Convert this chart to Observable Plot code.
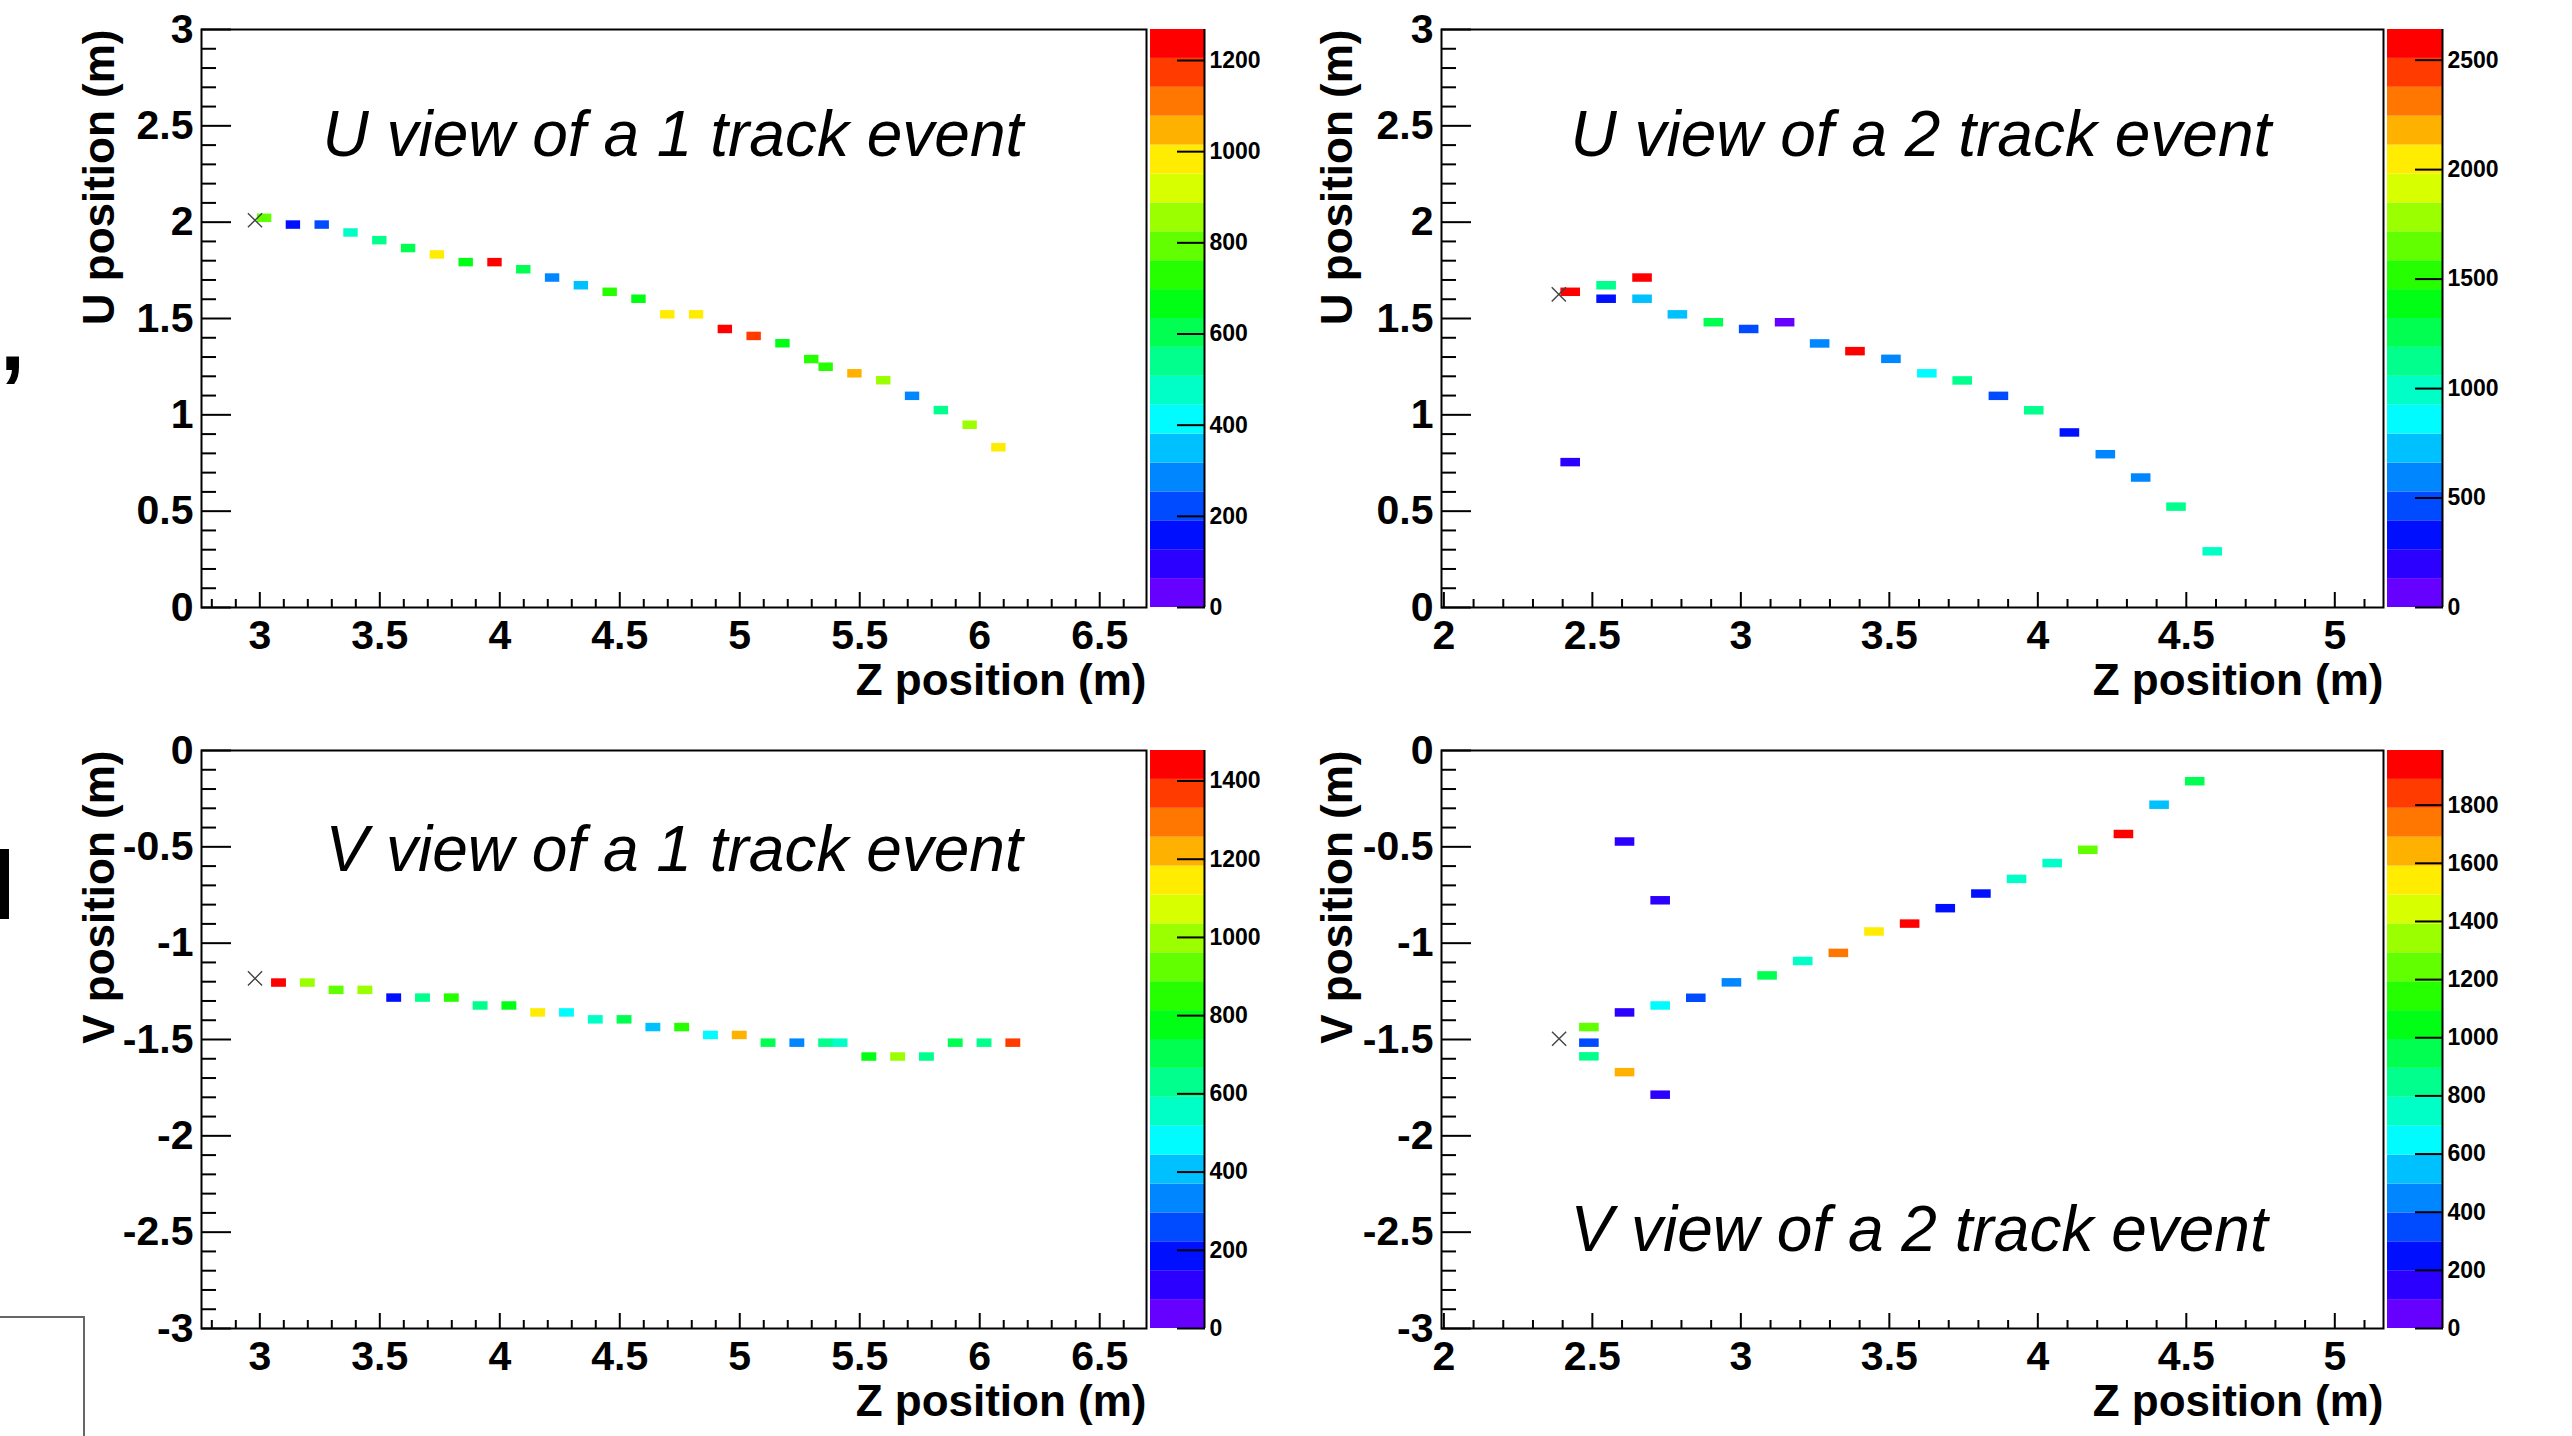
<!DOCTYPE html>
<html>
<head>
<meta charset="utf-8">
<script src="https://cdn.jsdelivr.net/npm/d3@7"></script>
<script src="https://cdn.jsdelivr.net/npm/@observablehq/plot@0.6"></script>
<style>
html, body { margin: 0; padding: 0; background: #fff; }
#root { position: relative; width: 2572px; height: 1436px; overflow: hidden; background: #fff; font-family: "Liberation Sans", Arial, Helvetica, sans-serif; }
.slot { position: absolute; }
.slot svg { display: block; }
.deco { position: absolute; }
</style>
</head>
<body>
<div id="root"></div>
<script>
// ---------------- DATA ----------------
const titles = ["U view of a 1 track event", "U view of a 2 track event", "V view of a 1 track event", "V view of a 2 track event"];
const yLabels = ["U position (m)", "U position (m)", "V position (m)", "V position (m)"];
const xLabel = "Z position (m)";

// Panel 1: U view, 1 track event (Z, U, charge)
const z1 = [3.02, 3.14, 3.26, 3.38, 3.50, 3.62, 3.74, 3.86, 3.98, 4.10, 4.22, 4.34, 4.46, 4.58, 4.70, 4.82, 4.94, 5.06, 5.18, 5.30, 5.36, 5.48, 5.60, 5.72, 5.84, 5.96, 6.08];
const t1 = [2.02, 1.985, 1.985, 1.944, 1.904, 1.863, 1.83, 1.79, 1.79, 1.753, 1.71, 1.67, 1.636, 1.60, 1.519, 1.519, 1.443, 1.407, 1.369, 1.287, 1.247, 1.213, 1.177, 1.096, 1.022, 0.946, 0.829];
const q1 = [790, 160, 220, 475, 540, 600, 980, 665, 1235, 600, 285, 350, 730, 665, 980, 980, 1235, 1175, 665, 730, 730, 1045, 855, 285, 540, 855, 980];

// Panel 2: U view, 2 track event
const z2 = [2.427, 2.548, 2.669, 2.548, 2.669, 2.788, 2.909, 3.028, 3.149, 3.267, 3.386, 3.507, 3.628, 3.747, 3.869, 3.988, 4.108, 4.229, 4.348, 4.467, 4.589, 2.427];
const t2 = [1.636, 1.670, 1.710, 1.600, 1.600, 1.519, 1.478, 1.443, 1.478, 1.368, 1.328, 1.288, 1.213, 1.176, 1.096, 1.021, 0.906, 0.793, 0.672, 0.521, 0.289, 0.752];
const q2 = [2575, 1120, 2575, 330, 725, 725, 1255, 460, 65, 595, 2575, 595, 860, 1120, 460, 1120, 330, 595, 595, 1120, 990, 200];

// Panel 3: V view, 1 track event
const z3 = [3.08, 3.20, 3.32, 3.44, 3.56, 3.68, 3.80, 3.92, 4.04, 4.16, 4.28, 4.40, 4.52, 4.64, 4.76, 4.88, 5.00, 5.12, 5.24, 5.36, 5.42, 5.54, 5.66, 5.78, 5.90, 6.02, 6.14];
const t3 = [-1.207, -1.207, -1.245, -1.245, -1.285, -1.285, -1.285, -1.326, -1.326, -1.362, -1.362, -1.398, -1.398, -1.438, -1.438, -1.479, -1.479, -1.519, -1.519, -1.519, -1.519, -1.591, -1.591, -1.591, -1.519, -1.519, -1.519];
const q3 = [1440, 1000, 925, 1000, 185, 630, 850, 630, 775, 1145, 480, 555, 700, 405, 850, 480, 1220, 700, 335, 630, 555, 775, 1000, 630, 700, 630, 1365];

// Panel 4: V view, 2 track event
const z4 = [4.53, 4.41, 4.29, 4.17, 4.05, 3.93, 3.81, 3.69, 3.57, 3.45, 3.33, 3.21, 3.09, 2.97, 2.85, 2.73, 2.61, 2.49, 2.49, 2.49, 2.61, 2.73, 2.61, 2.73];
const t4 = [-0.162, -0.284, -0.436, -0.518, -0.587, -0.669, -0.745, -0.821, -0.901, -0.942, -1.053, -1.095, -1.170, -1.206, -1.286, -1.326, -1.362, -1.438, -1.519, -1.590, -1.672, -1.789, -0.475, -0.780];
const q4 = [945, 545, 1940, 1245, 745, 745, 250, 250, 1940, 1540, 1740, 745, 945, 445, 350, 645, 150, 1245, 350, 845, 1640, 150, 150, 150];

// Vertex markers (Z, transverse)
const vertexZ = [2.98, 2.387, 2.98, 2.388];
const vertexT = [2.01, 1.625, -1.183, -1.496];

// Colour (charge) scale maxima and tick labels
const chargeMax = [1268, 2640, 1478, 1988];
const chargeTicks = [
  [0, 200, 400, 600, 800, 1000, 1200],
  [0, 500, 1000, 1500, 2000, 2500],
  [0, 200, 400, 600, 800, 1000, 1200, 1400],
  [0, 200, 400, 600, 800, 1000, 1200, 1400, 1600, 1800]
];

// ---------------- LAYOUT ----------------
const FONT = '"Liberation Sans", Arial, Helvetica, sans-serif';
const NBANDS = 20;
const palette = d3.range(NBANDS).map(i => d3.hsl(264 * (1 - i / (NBANDS - 1)), 1, 0.5).formatHex());

const layout = [
  {slot: [0, 0, 1148, 718], m: [29, 2, 111, 201], xDomain: [2.757, 6.695], yDomain: [0, 3], hitW: 0.06,
   cb: [1148, 0, 142, 718], cbm: [29, 86, 111, 2], titleD: [121, 126], yLabDx: -102},
  {slot: [1290, 0, 1095, 718], m: [29, 2, 111, 151], xDomain: [1.992, 5.164], yDomain: [0, 3], hitW: 0.066,
   cb: [2385, 0, 187, 718], cbm: [29, 130, 111, 2], titleD: [129, 126], yLabDx: -104},
  {slot: [0, 718, 1148, 718], m: [32, 2, 108, 201], xDomain: [2.757, 6.695], yDomain: [-3, 0], hitW: 0.062,
   cb: [1148, 718, 142, 718], cbm: [32, 86, 108, 2], titleD: [124, 120], yLabDx: -102},
  {slot: [1290, 718, 1095, 718], m: [32, 2, 108, 151], xDomain: [1.992, 5.164], yDomain: [-3, 0], hitW: 0.066,
   cb: [2385, 718, 187, 718], cbm: [32, 130, 108, 2], titleD: [129, 500], yLabDx: -104}
];
const HIT_H = 0.044;

const series = [[z1, t1, q1], [z2, t2, q2], [z3, t3, q3], [z4, t4, q4]];

function tickSets(domain) {
  const [a, b] = domain;
  const major = [], minor = [];
  for (let k = Math.ceil(a * 10 - 1e-6); k <= Math.floor(b * 10 + 1e-6); k++) {
    if (k % 5 === 0) major.push(k / 10); else minor.push(k / 10);
  }
  return {major, minor};
}

function colorScale(max) {
  return {type: "threshold", domain: d3.range(1, NBANDS).map(k => k * max / NBANDS), range: palette};
}

const root = document.getElementById("root");
function place(node, [l, t, w, h]) {
  const d = document.createElement("div");
  d.className = "slot";
  d.style.left = l + "px"; d.style.top = t + "px"; d.style.width = w + "px"; d.style.height = h + "px";
  d.appendChild(node);
  root.appendChild(d);
}

const fmt = d => `${d}`;

layout.forEach((L, i) => {
  const [zs, ts, qs] = series[i];
  const hits = zs.map((z, j) => ({z, t: ts[j], q: qs[j]}));
  const xt = tickSets(L.xDomain), yt = tickSets(L.yDomain);
  const [mt, mr, mb, ml] = L.m;
  const common = {fontFamily: FONT, fontWeight: "bold", label: null};
  const plot = Plot.plot({
    width: L.slot[2], height: L.slot[3],
    marginTop: mt, marginRight: mr, marginBottom: mb, marginLeft: ml,
    x: {domain: L.xDomain}, y: {domain: L.yDomain},
    color: colorScale(chargeMax[i]),
    style: {background: "transparent", overflow: "visible", fontFamily: FONT},
    marks: [
      Plot.rect(hits, {x1: d => d.z - L.hitW / 2, x2: d => d.z + L.hitW / 2,
                       y1: d => d.t - HIT_H / 2, y2: d => d.t + HIT_H / 2, fill: "q"}),
      Plot.dot([{z: vertexZ[i], t: vertexT[i]}], {x: "z", y: "t", symbol: "times", r: 6.5, stroke: "#444", strokeWidth: 1.4}),
      // inward ticks (ROOT style)
      Plot.axisX(xt.major, {tickSize: 15, dy: -15, fill: "none", label: null, strokeWidth: 2, stroke: "black"}),
      Plot.axisX(xt.minor, {tickSize: 8, dy: -8, fill: "none", label: null, strokeWidth: 2, stroke: "black"}),
      Plot.axisY(yt.major, {tickSize: 30, dx: 30, fill: "none", label: null, strokeWidth: 2, stroke: "black"}),
      Plot.axisY(yt.minor, {tickSize: 15, dx: 15, fill: "none", label: null, strokeWidth: 2, stroke: "black"}),
      // tick labels
      Plot.axisX(xt.major, {...common, tickSize: 0, tickPadding: 12, tickFormat: fmt, fontSize: 41, fill: "black"}),
      Plot.axisY(yt.major, {...common, tickSize: 0, tickPadding: 8, tickFormat: fmt, fontSize: 41, fill: "black"}),
      Plot.frame({stroke: "black", strokeWidth: 2}),
      // axis titles
      Plot.text([xLabel], {text: d => d, frameAnchor: "bottom-right", dy: 87, textAnchor: "end", lineAnchor: "bottom",
                           fontSize: 44, fontWeight: "bold", fontFamily: FONT, fill: "black"}),
      Plot.text([yLabels[i]], {text: d => d, frameAnchor: "top-left", dx: L.yLabDx, textAnchor: "end", lineAnchor: "middle",
                               rotate: -90, fontSize: 44, fontWeight: "bold", fontFamily: FONT, fill: "black"}),
      // panel title
      Plot.text([titles[i]], {text: d => d, frameAnchor: "top-left", dx: L.titleD[0], dy: L.titleD[1], textAnchor: "start",
                              lineAnchor: "bottom", fontSize: 64, fontStyle: "italic", fontFamily: FONT, fill: "black"})
    ]
  });
  place(plot, L.slot);

  // colour bar (palette axis)
  const max = chargeMax[i];
  const bands = d3.range(NBANDS).map(k => ({lo: k * max / NBANDS, hi: (k + 1) * max / NBANDS}));
  const [ct, cr, cbm, cl] = L.cbm;
  const cb = Plot.plot({
    width: L.cb[2], height: L.cb[3],
    marginTop: ct, marginRight: cr, marginBottom: cbm, marginLeft: cl,
    x: {domain: [0, 1], axis: null}, y: {domain: [0, max]},
    color: colorScale(max),
    style: {background: "transparent", overflow: "visible", fontFamily: FONT},
    marks: [
      Plot.rect(bands, {y1: "lo", y2: "hi", fill: d => (d.lo + d.hi) / 2}),
      Plot.ruleX([1], {stroke: "black", strokeWidth: 2}),
      Plot.axisY(chargeTicks[i], {anchor: "right", tickSize: 28, dx: -28, fill: "none", label: null, strokeWidth: 2, stroke: "black"}),
      Plot.axisY(chargeTicks[i], {anchor: "right", tickSize: 0, tickPadding: 5, tickFormat: fmt, fontSize: 23,
                                  fontWeight: "bold", fontFamily: FONT, label: null, fill: "black"})
    ]
  });
  place(cb, L.cb);
});

// cropped slide remnants at the left edge
const comma = document.createElement("div");
comma.className = "deco";
comma.textContent = ",";
Object.assign(comma.style, {left: "0px", top: "291px", fontSize: "90px", lineHeight: "96px", fontWeight: "bold", color: "#000"});
root.appendChild(comma);
const bar = document.createElement("div");
bar.className = "deco";
Object.assign(bar.style, {left: "0px", top: "849px", width: "9px", height: "70px", background: "#000"});
root.appendChild(bar);
const box = document.createElement("div");
box.className = "deco";
Object.assign(box.style, {left: "-10px", top: "1316px", width: "91px", height: "200px", border: "2px solid #666"});
root.appendChild(box);
</script>
</body>
</html>
